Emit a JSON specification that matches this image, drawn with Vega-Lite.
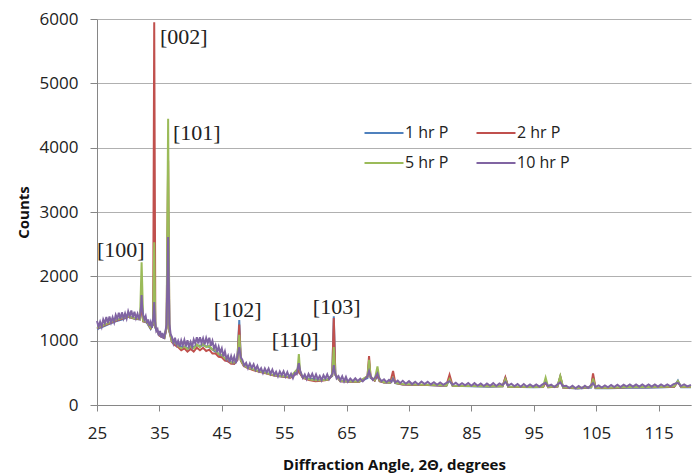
{
  "$schema": "https://vega.github.io/schema/vega-lite/v6.json",
  "width": 594,
  "height": 386,
  "autosize": {"type": "none"},
  "padding": {"left": 97, "top": 19, "right": 3, "bottom": 69},
  "background": "white",
  "config": {"view": {"stroke": null}},
  "datasets": {
    "p1": [
      {"x":25,"y":1180},{"x":26,"y":1220},{"x":27,"y":1260},{"x":28,"y":1300},{"x":29,"y":1330},{"x":30,"y":1370},{"x":31,"y":1340},{"x":31.9,"y":1330},{"x":32.15,"y":1650},{"x":32.4,"y":1300},{"x":33,"y":1280},{"x":33.6,"y":1180},{"x":34.0,"y":1250},{"x":34.17,"y":2200},{"x":34.35,"y":1200},{"x":35,"y":1080},{"x":35.8,"y":1040},{"x":36.15,"y":1200},{"x":36.4,"y":3000},{"x":36.6,"y":1150},{"x":37,"y":1000},{"x":38,"y":930},{"x":39,"y":890},{"x":40,"y":890},{"x":41,"y":920},{"x":42,"y":930},{"x":43,"y":900},{"x":44,"y":830},{"x":45,"y":750},{"x":46,"y":680},{"x":47,"y":640},{"x":47.5,"y":700},{"x":47.8,"y":1320},{"x":48.05,"y":700},{"x":48.5,"y":620},{"x":49,"y":590},{"x":50,"y":550},{"x":51,"y":520},{"x":52,"y":500},{"x":53,"y":470},{"x":54,"y":450},{"x":55,"y":440},{"x":56,"y":430},{"x":57.15,"y":500},{"x":57.35,"y":600},{"x":57.55,"y":490},{"x":58,"y":430},{"x":59,"y":410},{"x":60,"y":400},{"x":61,"y":390},{"x":62,"y":400},{"x":62.7,"y":450},{"x":62.95,"y":1380},{"x":63.2,"y":470},{"x":64,"y":370},{"x":65,"y":365},{"x":66,"y":360},{"x":67,"y":360},{"x":68.35,"y":420},{"x":68.6,"y":650},{"x":68.85,"y":420},{"x":69.5,"y":380},{"x":69.95,"y":450},{"x":70.3,"y":370},{"x":71,"y":350},{"x":72,"y":345},{"x":72.45,"y":420},{"x":72.8,"y":340},{"x":74,"y":320},{"x":76,"y":310},{"x":78,"y":310},{"x":80,"y":300},{"x":81,"y":300},{"x":81.5,"y":400},{"x":82,"y":300},{"x":85,"y":290},{"x":88,"y":285},{"x":90,"y":290},{"x":90.45,"y":420},{"x":90.9,"y":285},{"x":93,"y":280},{"x":95,"y":275},{"x":96.5,"y":280},{"x":96.9,"y":380},{"x":97.3,"y":275},{"x":98.8,"y":285},{"x":99.25,"y":440},{"x":99.7,"y":270},{"x":102,"y":255},{"x":104.2,"y":270},{"x":104.5,"y":440},{"x":104.9,"y":260},{"x":107,"y":260},{"x":110,"y":270},{"x":113,"y":270},{"x":116,"y":275},{"x":117.5,"y":285},{"x":118.1,"y":380},{"x":118.6,"y":275},{"x":120.2,"y":275}
    ],
    "p2": [
      {"x":25,"y":1190},{"x":26,"y":1230},{"x":27,"y":1270},{"x":28,"y":1310},{"x":29,"y":1340},{"x":30,"y":1370},{"x":31,"y":1345},{"x":31.9,"y":1330},{"x":32.15,"y":1600},{"x":32.4,"y":1300},{"x":33,"y":1290},{"x":33.6,"y":1190},{"x":34.0,"y":1260},{"x":34.17,"y":5950},{"x":34.35,"y":1210},{"x":35,"y":1080},{"x":35.8,"y":1040},{"x":36.15,"y":1200},{"x":36.4,"y":3800},{"x":36.6,"y":1150},{"x":37,"y":980},{"x":37.5,"y":930},{"x":38,"y":900},{"x":38.5,"y":850},{"x":39,"y":880},{"x":39.5,"y":830},{"x":40,"y":870},{"x":40.5,"y":830},{"x":41,"y":890},{"x":41.5,"y":850},{"x":42,"y":890},{"x":42.5,"y":840},{"x":43,"y":860},{"x":43.5,"y":800},{"x":44,"y":800},{"x":44.5,"y":750},{"x":45,"y":740},{"x":45.5,"y":690},{"x":46,"y":680},{"x":46.5,"y":640},{"x":47,"y":640},{"x":47.5,"y":700},{"x":47.8,"y":1250},{"x":48.05,"y":690},{"x":48.5,"y":610},{"x":49,"y":580},{"x":50,"y":545},{"x":51,"y":515},{"x":52,"y":495},{"x":53,"y":465},{"x":54,"y":450},{"x":55,"y":440},{"x":56,"y":425},{"x":57.15,"y":500},{"x":57.35,"y":600},{"x":57.55,"y":490},{"x":58,"y":420},{"x":59,"y":390},{"x":60,"y":370},{"x":61,"y":375},{"x":62,"y":390},{"x":62.7,"y":460},{"x":62.95,"y":1350},{"x":63.2,"y":470},{"x":64,"y":370},{"x":65,"y":365},{"x":66,"y":360},{"x":67,"y":360},{"x":68.35,"y":440},{"x":68.6,"y":760},{"x":68.85,"y":430},{"x":69.5,"y":380},{"x":69.95,"y":480},{"x":70.3,"y":370},{"x":71,"y":350},{"x":72,"y":350},{"x":72.45,"y":530},{"x":72.8,"y":345},{"x":74,"y":320},{"x":76,"y":315},{"x":78,"y":310},{"x":80,"y":305},{"x":81,"y":305},{"x":81.5,"y":470},{"x":82,"y":300},{"x":85,"y":295},{"x":88,"y":290},{"x":90,"y":290},{"x":90.45,"y":430},{"x":90.9,"y":285},{"x":93,"y":280},{"x":95,"y":280},{"x":96.5,"y":280},{"x":96.9,"y":350},{"x":97.3,"y":275},{"x":98.8,"y":285},{"x":99.25,"y":440},{"x":99.7,"y":270},{"x":102,"y":260},{"x":104.2,"y":280},{"x":104.5,"y":490},{"x":104.9,"y":265},{"x":107,"y":265},{"x":110,"y":275},{"x":113,"y":275},{"x":116,"y":280},{"x":117.5,"y":285},{"x":118.1,"y":360},{"x":118.6,"y":280},{"x":120.2,"y":280}
    ],
    "p3": [
      {"x":25,"y":1200},{"x":26,"y":1240},{"x":27,"y":1280},{"x":28,"y":1320},{"x":29,"y":1350},{"x":30,"y":1380},{"x":31,"y":1350},{"x":31.9,"y":1340},{"x":32.15,"y":2220},{"x":32.4,"y":1310},{"x":33,"y":1290},{"x":33.6,"y":1200},{"x":34.0,"y":1270},{"x":34.17,"y":2530},{"x":34.35,"y":1220},{"x":35,"y":1090},{"x":35.8,"y":1050},{"x":36.15,"y":1220},{"x":36.4,"y":4450},{"x":36.6,"y":1160},{"x":37,"y":990},{"x":37.5,"y":960},{"x":38,"y":920},{"x":38.5,"y":880},{"x":39,"y":910},{"x":39.5,"y":870},{"x":40,"y":910},{"x":40.5,"y":880},{"x":41,"y":940},{"x":41.5,"y":900},{"x":42,"y":950},{"x":42.5,"y":900},{"x":43,"y":920},{"x":43.5,"y":860},{"x":44,"y":850},{"x":44.5,"y":790},{"x":45,"y":780},{"x":45.5,"y":720},{"x":46,"y":710},{"x":46.5,"y":660},{"x":47,"y":660},{"x":47.5,"y":720},{"x":47.8,"y":1090},{"x":48.05,"y":700},{"x":48.5,"y":620},{"x":49,"y":590},{"x":50,"y":555},{"x":51,"y":525},{"x":52,"y":500},{"x":53,"y":475},{"x":54,"y":455},{"x":55,"y":445},{"x":56,"y":435},{"x":57.15,"y":560},{"x":57.35,"y":790},{"x":57.55,"y":520},{"x":58,"y":430},{"x":59,"y":400},{"x":60,"y":385},{"x":61,"y":385},{"x":62,"y":395},{"x":62.7,"y":470},{"x":62.95,"y":900},{"x":63.2,"y":470},{"x":64,"y":375},{"x":65,"y":370},{"x":66,"y":365},{"x":67,"y":365},{"x":68.35,"y":450},{"x":68.6,"y":700},{"x":68.85,"y":440},{"x":69.5,"y":390},{"x":69.95,"y":600},{"x":70.3,"y":380},{"x":71,"y":355},{"x":72,"y":350},{"x":72.45,"y":420},{"x":72.8,"y":345},{"x":74,"y":325},{"x":76,"y":320},{"x":78,"y":315},{"x":80,"y":310},{"x":81,"y":305},{"x":81.5,"y":400},{"x":82,"y":300},{"x":85,"y":295},{"x":88,"y":290},{"x":90,"y":290},{"x":90.45,"y":400},{"x":90.9,"y":285},{"x":93,"y":285},{"x":95,"y":280},{"x":96.5,"y":285},{"x":96.9,"y":425},{"x":97.3,"y":280},{"x":98.8,"y":290},{"x":99.25,"y":450},{"x":99.7,"y":275},{"x":102,"y":265},{"x":104.2,"y":280},{"x":104.5,"y":410},{"x":104.9,"y":270},{"x":107,"y":270},{"x":110,"y":280},{"x":113,"y":280},{"x":116,"y":285},{"x":117.5,"y":290},{"x":118.1,"y":370},{"x":118.6,"y":285},{"x":120.2,"y":285}
    ],
    "p4": [
      {"x":25,"y":1305},{"x":25.25,"y":1214},{"x":25.5,"y":1293},{"x":25.75,"y":1216},{"x":26,"y":1330},{"x":26.25,"y":1269},{"x":26.5,"y":1368},{"x":26.75,"y":1271},{"x":27,"y":1375},{"x":27.25,"y":1284},{"x":27.5,"y":1363},{"x":27.75,"y":1286},{"x":28,"y":1400},{"x":28.25,"y":1338},{"x":28.5,"y":1435},{"x":28.75,"y":1338},{"x":29,"y":1440},{"x":29.25,"y":1346},{"x":29.5,"y":1423},{"x":29.75,"y":1344},{"x":30,"y":1455},{"x":30.25,"y":1381},{"x":30.5,"y":1468},{"x":30.75,"y":1359},{"x":31,"y":1450},{"x":31.25,"y":1348},{"x":31.5,"y":1417},{"x":31.75,"y":1330},{"x":31.95,"y":1420},{"x":32.05,"y":1520},{"x":32.15,"y":1710},{"x":32.25,"y":1500},{"x":32.4,"y":1400},{"x":32.6,"y":1330},{"x":32.8,"y":1380},{"x":33.0,"y":1270},{"x":33.2,"y":1330},{"x":33.4,"y":1230},{"x":33.6,"y":1290},{"x":33.8,"y":1200},{"x":34.0,"y":1330},{"x":34.17,"y":1600},{"x":34.3,"y":1300},{"x":34.5,"y":1150},{"x":34.7,"y":1180},{"x":34.9,"y":1080},{"x":35.1,"y":1150},{"x":35.3,"y":1050},{"x":35.5,"y":1120},{"x":35.7,"y":1030},{"x":35.9,"y":1110},{"x":36.15,"y":1250},{"x":36.4,"y":2610},{"x":36.6,"y":1260},{"x":36.8,"y":1100},{"x":37.0,"y":1060},{"x":37.25,"y":960},{"x":37.5,"y":1045},{"x":37.75,"y":935},{"x":38.0,"y":995},{"x":38.25,"y":904},{"x":38.5,"y":1003},{"x":38.75,"y":926},{"x":39.0,"y":1010},{"x":39.25,"y":908},{"x":39.5,"y":1005},{"x":39.75,"y":908},{"x":40.0,"y":980},{"x":40.25,"y":904},{"x":40.5,"y":1018},{"x":40.75,"y":956},{"x":41.0,"y":1055},{"x":41.25,"y":955},{"x":41.5,"y":1055},{"x":41.75,"y":960},{"x":42.0,"y":1035},{"x":42.25,"y":942},{"x":42.5,"y":1040},{"x":42.75,"y":962},{"x":43.0,"y":1045},{"x":43.25,"y":921},{"x":43.5,"y":997},{"x":43.75,"y":879},{"x":44.0,"y":930},{"x":44.25,"y":822},{"x":44.5,"y":905},{"x":44.75,"y":813},{"x":45.0,"y":880},{"x":45.25,"y":756},{"x":45.5,"y":833},{"x":45.75,"y":714},{"x":46.0,"y":765},{"x":46.25,"y":668},{"x":46.5,"y":760},{"x":46.75,"y":678},{"x":47.0,"y":755},{"x":47.25,"y":650},{"x":47.5,"y":760},{"x":47.8,"y":900},{"x":48.05,"y":740},{"x":48.3,"y":700},{"x":48.6,"y":612},{"x":48.9,"y":654},{"x":49.2,"y":573},{"x":49.5,"y":643},{"x":49.8,"y":577},{"x":50.1,"y":632},{"x":50.4,"y":548},{"x":50.7,"y":609},{"x":51.0,"y":525},{"x":51.3,"y":571},{"x":51.6,"y":497},{"x":51.9,"y":568},{"x":52.2,"y":506},{"x":52.5,"y":565},{"x":52.8,"y":484},{"x":53.1,"y":548},{"x":53.4,"y":467},{"x":53.7,"y":516},{"x":54.0,"y":445},{"x":54.3,"y":521},{"x":54.6,"y":462},{"x":54.9,"y":522},{"x":55.2,"y":442},{"x":55.5,"y":510},{"x":55.8,"y":432},{"x":56.1,"y":485},{"x":56.4,"y":419},{"x":56.7,"y":497},{"x":57.0,"y":480},{"x":57.15,"y":560},{"x":57.35,"y":650},{"x":57.55,"y":540},{"x":57.8,"y":470},{"x":58.0,"y":420},{"x":58.3,"y":472},{"x":58.6,"y":404},{"x":58.9,"y":481},{"x":59.2,"y":423},{"x":59.5,"y":485},{"x":59.8,"y":407},{"x":60.1,"y":474},{"x":60.4,"y":398},{"x":60.7,"y":452},{"x":61.0,"y":385},{"x":61.3,"y":465},{"x":61.6,"y":410},{"x":61.9,"y":475},{"x":62.2,"y":400},{"x":62.5,"y":450},{"x":62.75,"y":490},{"x":62.95,"y":620},{"x":63.15,"y":500},{"x":63.4,"y":415},{"x":63.7,"y":450},{"x":64.0,"y":385},{"x":64.3,"y":447},{"x":64.6,"y":369},{"x":64.9,"y":436},{"x":65.2,"y":360},{"x":65.6,"y":410},{"x":66,"y":370},{"x":66.4,"y":415},{"x":66.8,"y":372},{"x":67.2,"y":410},{"x":67.6,"y":368},{"x":68.0,"y":410},{"x":68.35,"y":450},{"x":68.6,"y":530},{"x":68.85,"y":450},{"x":69.2,"y":390},{"x":69.6,"y":430},{"x":69.95,"y":490},{"x":70.2,"y":420},{"x":70.6,"y":370},{"x":71,"y":400},{"x":71.4,"y":355},{"x":71.8,"y":390},{"x":72.2,"y":360},{"x":72.45,"y":410},{"x":72.8,"y":350},{"x":73.2,"y":380},{"x":73.6,"y":340},{"x":74,"y":375},{"x":74.5,"y":330},{"x":75,"y":370},{"x":75.5,"y":325},{"x":76,"y":360},{"x":76.5,"y":320},{"x":77,"y":365},{"x":77.5,"y":325},{"x":78,"y":360},{"x":78.5,"y":320},{"x":79,"y":355},{"x":79.5,"y":315},{"x":80,"y":350},{"x":80.5,"y":315},{"x":81,"y":345},{"x":81.5,"y":370},{"x":82,"y":315},{"x":82.5,"y":345},{"x":83,"y":305},{"x":83.5,"y":340},{"x":84,"y":305},{"x":84.5,"y":340},{"x":85,"y":300},{"x":85.5,"y":340},{"x":86,"y":300},{"x":86.5,"y":335},{"x":87,"y":295},{"x":87.5,"y":335},{"x":88,"y":300},{"x":88.5,"y":340},{"x":89,"y":295},{"x":89.5,"y":335},{"x":90,"y":310},{"x":90.45,"y":360},{"x":90.9,"y":300},{"x":91.4,"y":330},{"x":91.9,"y":290},{"x":92.4,"y":325},{"x":92.9,"y":285},{"x":93.4,"y":325},{"x":93.9,"y":285},{"x":94.4,"y":320},{"x":94.9,"y":285},{"x":95.4,"y":320},{"x":95.9,"y":285},{"x":96.4,"y":320},{"x":96.9,"y":345},{"x":97.3,"y":295},{"x":97.8,"y":315},{"x":98.3,"y":280},{"x":98.8,"y":320},{"x":99.25,"y":350},{"x":99.7,"y":290},{"x":100.2,"y":300},{"x":100.7,"y":265},{"x":101.2,"y":300},{"x":101.7,"y":260},{"x":102.2,"y":295},{"x":102.7,"y":260},{"x":103.2,"y":300},{"x":103.7,"y":265},{"x":104.2,"y":310},{"x":104.5,"y":340},{"x":104.9,"y":280},{"x":105.4,"y":305},{"x":105.9,"y":270},{"x":106.4,"y":305},{"x":106.9,"y":275},{"x":107.4,"y":310},{"x":107.9,"y":280},{"x":108.4,"y":315},{"x":108.9,"y":280},{"x":109.4,"y":315},{"x":109.9,"y":285},{"x":110.4,"y":320},{"x":110.9,"y":285},{"x":111.4,"y":320},{"x":111.9,"y":285},{"x":112.4,"y":320},{"x":112.9,"y":285},{"x":113.4,"y":320},{"x":113.9,"y":285},{"x":114.4,"y":320},{"x":114.9,"y":285},{"x":115.4,"y":320},{"x":115.9,"y":290},{"x":116.4,"y":320},{"x":116.9,"y":290},{"x":117.4,"y":325},{"x":118.1,"y":345},{"x":118.6,"y":295},{"x":119.1,"y":320},{"x":119.6,"y":290},{"x":120.2,"y":310}
    ],
    "ann": [
      {"x":35.09,"y":5720,"t":"[002]"},
      {"x":37.17,"y":4228,"t":"[101]"},
      {"x":25.0,"y":2410,"t":"[100]"},
      {"x":43.73,"y":1477,"t":"[102]"},
      {"x":53.02,"y":1010,"t":"[110]"},
      {"x":59.59,"y":1523,"t":"[103]"}
    ]
  },
  "encoding": {
    "x": {
      "field": "x", "type": "quantitative",
      "scale": {"domain": [25, 120.2], "nice": false, "zero": false},
      "axis": {
        "title": "Diffraction Angle, 2Θ, degrees",
        "values": [25, 35, 45, 55, 65, 75, 85, 95, 105, 115],
        "grid": false, "labelFlush": false,
        "domainColor": "#868686", "tickColor": "#868686", "tickSize": 6,
        "labelFont": "Open Sans", "labelFontSize": 17, "labelColor": "#222222", "labelPadding": 14,
        "titleFont": "Open Sans", "titleFontSize": 15, "titleFontWeight": "bold", "titleColor": "#111111",
        "titleBaseline": "alphabetic", "titleY": 64
      }
    },
    "y": {
      "field": "y", "type": "quantitative",
      "scale": {"domain": [0, 6000], "nice": false},
      "axis": {
        "title": "Counts", "format": "d",
        "values": [0, 1000, 2000, 3000, 4000, 5000, 6000],
        "grid": true, "gridColor": "#b0b0b0", "labelFlush": false,
        "domainColor": "#868686", "tickColor": "#868686", "tickSize": 7,
        "labelFont": "Open Sans", "labelFontSize": 17, "labelColor": "#222222", "labelPadding": 12,
        "titleFont": "Open Sans", "titleFontSize": 15, "titleFontWeight": "bold", "titleColor": "#111111",
        "titleBaseline": "alphabetic", "titleX": -69
      }
    }
  },
  "layer": [
    {
      "data": {"name": "p1"},
      "mark": {"type": "line", "strokeWidth": 2},
      "encoding": {
        "color": {
          "datum": "1 hr P", "type": "nominal",
          "scale": {"domain": ["1 hr P", "2 hr P", "5 hr P", "10 hr P"], "range": ["#4F81BD", "#C0504D", "#9BBB59", "#8064A2"]},
          "legend": {
            "title": null, "orient": "none", "legendX": 276, "legendY": 103,
            "direction": "horizontal", "columns": 2, "columnPadding": 23, "rowPadding": 11,
            "symbolType": "M-2,0H2", "symbolSize": 380, "symbolStrokeWidth": 2,
            "labelFont": "Open Sans", "labelFontSize": 16, "labelColor": "#222222", "labelOffset": 10,
            "padding": 0
          }
        }
      }
    },
    {
      "data": {"name": "p2"},
      "mark": {"type": "line", "strokeWidth": 2},
      "encoding": {"color": {"datum": "2 hr P", "type": "nominal"}}
    },
    {
      "data": {"name": "p3"},
      "mark": {"type": "line", "strokeWidth": 2},
      "encoding": {"color": {"datum": "5 hr P", "type": "nominal"}}
    },
    {
      "data": {"name": "p4"},
      "mark": {"type": "line", "strokeWidth": 2},
      "encoding": {"color": {"datum": "10 hr P", "type": "nominal"}}
    },
    {
      "data": {"name": "ann"},
      "mark": {"type": "text", "align": "left", "baseline": "middle", "font": "Liberation Serif", "fontSize": 22, "color": "#222222"},
      "encoding": {"text": {"field": "t"}}
    }
  ]
}
